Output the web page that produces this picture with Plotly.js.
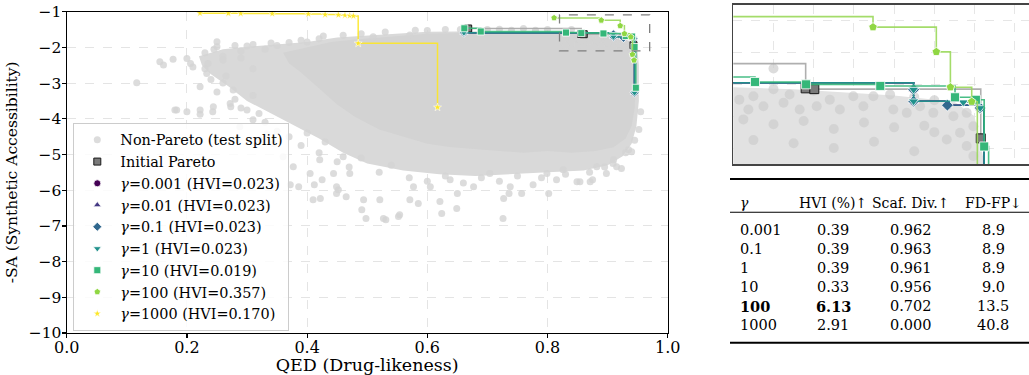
<!DOCTYPE html>
<html><head><meta charset="utf-8">
<script src="https://cdn.plot.ly/plotly-3.0.1.min.js"></script>
<style>html,body{margin:0;padding:0;background:#fff}#chart{width:1029px;height:375px}</style>
</head><body><div id="chart"></div>
<script>
// ---------- data ----------
// dense core of the non-Pareto cloud (outline)
const coreQED = [0.36,0.40,0.44,0.48,0.52,0.56,0.60,0.65,0.70,0.75,0.80,0.85,0.90,0.93,0.94,0.945,0.947,0.945,0.94,0.93,0.91,0.88,0.84,0.80,0.76,0.72,0.68,0.64,0.60,0.56,0.52,0.48,0.45,0.43,0.41,0.39,0.37];
const coreSA  = [-2.15,-2.00,-1.85,-1.78,-1.72,-1.66,-1.62,-1.60,-1.60,-1.60,-1.61,-1.63,-1.67,-1.71,-1.80,-2.1,-3.0,-3.7,-4.2,-4.55,-4.8,-4.9,-4.95,-4.9,-4.95,-4.9,-4.85,-4.8,-4.7,-4.5,-4.3,-3.95,-3.6,-3.3,-3.0,-2.7,-2.45];
// semi-dense halo of the cloud (outline)
const haloQED = [0.22,0.26,0.30,0.35,0.40,0.45,0.50,0.55,0.60,0.70,0.80,0.88,0.93,0.948,0.952,0.952,0.948,0.94,0.925,0.90,0.86,0.80,0.74,0.68,0.62,0.56,0.50,0.46,0.42,0.38,0.34,0.30,0.27,0.24,0.225];
const haloSA  = [-2.25,-2.05,-1.98,-1.92,-1.85,-1.72,-1.66,-1.60,-1.56,-1.55,-1.56,-1.58,-1.63,-1.75,-2.5,-3.5,-4.2,-4.7,-5.05,-5.3,-5.45,-5.5,-5.55,-5.6,-5.55,-5.45,-5.25,-4.95,-4.55,-4.2,-3.85,-3.5,-3.1,-2.75,-2.5];
// individual non-Pareto molecules
const npQED = [0.1165,0.155,0.161,0.177,0.183,0.20,0.206,0.222,0.222,0.25,0.25,0.222,0.244,0.272,0.233,0.277,0.30,0.31,0.333,0.344,0.36,0.372,0.405,0.41,0.449,0.377,0.421,0.444,0.322,0.288,0.18,0.20,0.243,0.273,0.386,0.425,0.452,0.491,0.498,0.531,0.554,0.624,0.726,0.422,0.412,0.465,0.571,0.650,0.736,0.802,0.849,0.875,0.915,0.935,0.494,0.521,0.585,0.621,0.649,0.677,0.727,0.757,0.776,0.815,0.854,0.871,0.898,0.923,0.940,0.471,0.46,0.449,0.577,0.605,0.638,0.704,0.738,0.799,0.826,0.882,0.909,0.527,0.552,0.427,0.51,0.571,0.60,0.655,0.70,0.74,0.78,0.40,0.35,0.30,0.21,0.235,0.26,0.29,0.265,0.31,
0.23,0.245,0.26,0.28,0.29,0.31,0.33,0.34,0.37,0.39,0.42,0.46,0.49,0.53,0.58,0.63,0.67,0.72,0.76,0.80,0.84,
0.23,0.24,0.25,0.26,0.28,0.29,0.31,0.32,0.33,0.35,0.37,0.39,0.40,0.42,0.43,0.45,0.47,0.49,0.52,0.54,0.57,0.60,0.63,0.66,0.69,0.72,0.75,0.79,0.83,0.87,0.895,0.91,0.93,0.945,0.952,0.955,
0.823,0.830,0.8275,0.835,0.845,0.848,0.853,0.8615,0.868,0.873,0.8797,0.8847,0.8897,0.898,0.8996,0.9063,0.9129,0.9195,0.9295,0.9361,0.9394,0.9328,0.9361,0.9394,0.9262,0.825,0.84,0.855,0.87,0.885,0.90,0.915,0.83,0.85,0.87,0.89,0.91,0.92,0.86,0.91,0.92,0.84];
const npSA  = [-2.99,-2.40,-2.49,-2.33,-3.75,-2.31,-2.45,-3.75,-3.87,-1.84,-1.98,-3.10,-3.66,-3.57,-2.73,-3.19,-3.75,-4.03,-4.41,-4.69,-5.06,-5.85,-5.53,-6.27,-6.09,-5.34,-5.15,-5.53,-4.59,-4.22,-3.75,-3.80,-3.80,-3.66,-5.90,-5.71,-5.99,-6.55,-6.79,-6.83,-6.69,-6.65,-6.79,-6.23,-5.85,-6.18,-6.27,-6.09,-6.09,-6.09,-5.76,-5.71,-5.34,-4.87,-6.27,-6.27,-6.37,-6.32,-6.51,-5.90,-6.23,-6.09,-5.85,-5.71,-5.76,-5.76,-5.53,-5.39,-4.92,-5.53,-5.06,-5.90,-5.90,-5.90,-5.71,-5.53,-5.90,-5.53,-5.43,-5.34,-5.25,-6.79,-6.74,-1.68,-1.70,-1.65,-1.53,-1.50,-1.50,-1.52,-1.52,-1.85,-1.95,-1.96,-2.55,-2.45,-2.35,-2.1,-2.8,-2.6,
-2.15,-2.05,-2.25,-1.95,-2.3,-1.92,-2.05,-1.88,-1.86,-1.8,-1.76,-1.66,-1.62,-1.57,-1.52,-1.50,-1.47,-1.49,-1.47,-1.50,-1.50,
-2.6,-2.9,-3.25,-3.0,-3.45,-3.7,-3.35,-3.85,-4.1,-4.35,-4.5,-4.75,-4.4,-4.95,-4.65,-5.2,-5.35,-5.1,-5.5,-5.3,-5.65,-5.75,-5.6,-5.8,-5.65,-5.75,-5.6,-5.65,-5.55,-5.5,-5.35,-5.15,-4.95,-4.6,-4.3,-3.8,
-1.696,-1.675,-1.758,-1.7375,-1.716,-1.664,-1.758,-1.7375,-1.696,-1.758,-1.675,-1.7375,-1.675,-1.664,-1.758,-1.779,-1.7375,-1.779,-1.80,-1.779,-1.8625,-1.904,-1.9875,-2.05,-1.946,-1.82,-1.85,-1.83,-1.88,-1.84,-1.87,-1.86,-1.95,-1.97,-2.0,-1.96,-2.02,-1.9,-1.64,-1.68,-1.70,-1.63];
// Pareto fronts
const initQED = [0.668,0.856,0.8603,0.9431];
const initSA  = [-1.47,-1.625,-1.63,-1.939];
const g0001QED = [0.661,0.9097,0.9097,0.9265,0.9428,0.9448];
const g0001SA  = [-1.59,-1.633,-1.706,-1.731,-1.748,-3.27];
const g001QED  = [0.661,0.9097,0.9097,0.9265,0.9428,0.9448];
const g001SA   = [-1.59,-1.633,-1.706,-1.731,-1.748,-3.27];
const g01QED   = [0.661,0.9097,0.9097,0.9265,0.9428,0.9448];
const g01SA    = [-1.59,-1.633,-1.706,-1.731,-1.748,-3.27];
const g1QED    = [0.661,0.9097,0.9097,0.9344,0.9428,0.9448];
const g1SA     = [-1.59,-1.633,-1.706,-1.712,-1.748,-3.27];
const g10QED   = [0.6616,0.689,0.8308,0.8562,0.8931,0.9303,0.9407,0.9448,0.947];
const g10SA    = [-1.465,-1.554,-1.585,-1.600,-1.61,-1.681,-1.697,-1.99,-3.13];
const g100QED  = [0.811,0.8895,0.921,0.928,0.9386,0.9414,0.944];
const g100SA   = [-1.175,-1.241,-1.396,-1.618,-1.709,-2.2,-2.36];
const g1000QED = [0.2218,0.269,0.2895,0.342,0.402,0.43,0.452,0.463,0.471,0.477,0.485,0.617];
const g1000SA  = [-1.04,-1.045,-1.05,-1.055,-1.065,-1.08,-1.09,-1.10,-1.11,-1.12,-1.886,-3.68];
// zoom window
const zoomQED = [0.82, 0.97];
const zoomSA  = [-2.1, -1.09];
// table
const tblHeader = ['<i>γ</i>','HVI (%)↑','Scaf. Div.↑','FD-FP↓'];
const tblGamma  = ['0.001','0.1','1','10','100','1000'];
const tblHVI    = ['0.39','0.39','0.39','0.33','6.13','2.91'];
const tblScaf   = ['0.962','0.963','0.961','0.956','0.702','0.000'];
const tblFD     = ['8.9','8.9','8.9','9.0','13.5','40.8'];
const tblBold   = ['100'];

// ---------- drawing ----------
const W = 1029, H = 375;
const fx = p => p / W, fy = p => 1 - p / H;
const serif = 'DejaVu Serif';

const series = [
  {name:'Initial Pareto', x:initQED, y:initSA, color:'#7a7a7a', line:'#a6a6a6', symbol:'square', edge:'#1a1a1a', ew:1},
  {name:'<i>γ</i>=0.001 (HVI=0.023)', x:g0001QED, y:g0001SA, color:'#440154', line:'#440154', symbol:'circle', edge:'white', ew:0.8},
  {name:'<i>γ</i>=0.01 (HVI=0.023)', x:g001QED, y:g001SA, color:'#443983', line:'#443983', symbol:'triangle-up', edge:'white', ew:0.8},
  {name:'<i>γ</i>=0.1 (HVI=0.023)', x:g01QED, y:g01SA, color:'#31688e', line:'#31688e', symbol:'diamond', edge:'white', ew:0.8},
  {name:'<i>γ</i>=1 (HVI=0.023)', x:g1QED, y:g1SA, color:'#21918c', line:'#21918c', symbol:'triangle-down', edge:'white', ew:0.8},
  {name:'<i>γ</i>=10 (HVI=0.019)', x:g10QED, y:g10SA, color:'#35b779', line:'#35b779', symbol:'square', edge:'white', ew:0.8},
  {name:'<i>γ</i>=100 (HVI=0.357)', x:g100QED, y:g100SA, color:'#90d743', line:'#9ad85a', symbol:'pentagon', edge:'white', ew:0.8},
  {name:'<i>γ</i>=1000 (HVI=0.170)', x:g1000QED, y:g1000SA, color:'#fde725', line:'#fde725', symbol:'star', edge:'white', ew:0.6}
];

const traces = [];
// cloud main
traces.push({x:haloQED, y:haloSA, mode:'lines', fill:'toself', fillcolor:'#d9d9d9', line:{width:0}, hoverinfo:'skip', showlegend:false, xaxis:'x', yaxis:'y'});
traces.push({x:coreQED, y:coreSA, mode:'lines', fill:'toself', fillcolor:'#d3d3d3', line:{width:0}, hoverinfo:'skip', showlegend:false, xaxis:'x', yaxis:'y'});
traces.push({x:npQED, y:npSA, mode:'markers', name:'Non-Pareto (test split)', marker:{size:7, color:'rgba(211,211,211,0.8)'}, xaxis:'x', yaxis:'y'});
// cloud inset
traces.push({x:coreQED, y:coreSA, mode:'lines', fill:'toself', fillcolor:'#e2e2e2', line:{width:0}, hoverinfo:'skip', showlegend:false, xaxis:'x2', yaxis:'y2'});
traces.push({x:npQED, y:npSA, mode:'markers', marker:{size:10, color:'rgba(205,205,205,0.7)'}, showlegend:false, xaxis:'x2', yaxis:'y2'});

function addSeries(s, xa, ya, ms, lw, legend) {
  traces.push({x:s.x, y:s.y, mode:'lines', line:{shape:'hv', color:s.line, width:lw}, opacity:0.9, hoverinfo:'skip', showlegend:false, xaxis:xa, yaxis:ya});
  traces.push({x:s.x, y:s.y, mode:'markers', name:s.name, showlegend:legend,
    marker:{symbol:s.symbol, size:(s.symbol==='star'? ms-1 : ms), color:s.color, line:{color:s.edge, width:s.ew}}, xaxis:xa, yaxis:ya});
}
series.forEach(s => addSeries(s, 'x', 'y', 7, 1.5, true));
series.forEach(s => addSeries(s, 'x2', 'y2', 9, 1.6, false));

const shapes = [
  {type:'rect', xref:'x', yref:'y', x0:zoomQED[0], x1:zoomQED[1], y0:zoomSA[0], y1:zoomSA[1], line:{color:'#7f7f7f', width:1.3, dash:'dash'}},
  {type:'line', xref:'paper', yref:'paper', x0:fx(730), x1:1, y0:fy(179), y1:fy(179), line:{color:'black', width:2}},
  {type:'line', xref:'paper', yref:'paper', x0:fx(730), x1:1, y0:fy(212.3), y1:fy(212.3), line:{color:'black', width:1.1}},
  {type:'line', xref:'paper', yref:'paper', x0:fx(730), x1:1, y0:fy(342.7), y1:fy(342.7), line:{color:'black', width:2}}
];

const colX = [738, 833, 911, 993];
const rowY = [230, 249, 267.7, 286.7, 306, 325.3];
const annotations = [];
tblHeader.forEach((t, i) => annotations.push({xref:'paper', yref:'paper', x:fx(colX[i]), y:fy(203), xanchor:(i===0?'left':'center'), yanchor:'middle', text:t, showarrow:false, font:{family:serif, size:14, color:'black'}}));
tblGamma.forEach((g, r) => {
  const bold = tblBold.includes(g);
  const cells = [g, tblHVI[r], tblScaf[r], tblFD[r]];
  cells.forEach((c, i) => {
    const txt = (bold && i < 2) ? '<b>' + c + '</b>' : c;
    annotations.push({xref:'paper', yref:'paper', x:fx(colX[i]), y:fy(rowY[r]), xanchor:(i===0?'left':'center'), yanchor:'middle', text:txt, showarrow:false, font:{family:serif, size:14.5, color:'black'}});
  });
});

const layout = {
  width:W, height:H, margin:{l:0, r:0, t:0, b:0},
  paper_bgcolor:'white', plot_bgcolor:'white',
  font:{family:serif, color:'black'},
  xaxis:{domain:[fx(66.7), fx(667.7)], range:[0,1], tick0:0, dtick:0.2, tickformat:'.1f', anchor:'y',
    showline:true, mirror:true, linecolor:'black', linewidth:1.2, ticks:'outside', ticklen:3.5, tickwidth:1.2, tickcolor:'black',
    ticklabelstandoff:-4,
    showgrid:true, gridcolor:'#dddddd', griddash:'dash', gridwidth:0.8, zeroline:false, tickfont:{size:16, family:serif},
    title:{text:'QED (Drug-likeness)', font:{size:17.5, family:serif}, standoff:5}},
  yaxis:{domain:[fy(333), fy(11.7)], range:[-10,-1], tick0:-10, dtick:1, anchor:'x',
    showline:true, mirror:true, linecolor:'black', linewidth:1.2, ticks:'outside', ticklen:4, tickwidth:1.2, tickcolor:'black',
    ticklabelstandoff:-3,
    showgrid:true, gridcolor:'#dddddd', griddash:'dash', gridwidth:0.8, zeroline:false, tickfont:{size:15.5, family:serif},
    title:{text:'-SA (Synthetic Accessibility)', font:{size:15.5, family:serif}, standoff:7}},
  xaxis2:{domain:[fx(733.3), 1], range:[0.82, 0.9671], anchor:'y2', tick0:0.8, dtick:0.02, showticklabels:false, ticks:'',
    showline:true, mirror:true, linecolor:'#444444', linewidth:1.6, showgrid:true, gridcolor:'#e0e0e0', griddash:'dash', gridwidth:0.8, zeroline:false},
  yaxis2:{domain:[fy(164), fy(4.7)], range:[-2.1, -1.1], anchor:'x2', tick0:-2.0, dtick:0.2, showticklabels:false, ticks:'',
    showline:true, mirror:false, linecolor:'#444444', linewidth:1.6, showgrid:true, gridcolor:'#e0e0e0', griddash:'dash', gridwidth:0.8, zeroline:false},
  legend:{x:fx(73.3), y:fy(123), xanchor:'left', yanchor:'top', bgcolor:'rgba(255,255,255,0.85)', bordercolor:'#cccccc', borderwidth:1,
    font:{family:serif, size:14.4, color:'black'}, itemwidth:36, traceorder:'normal'},
  shapes:shapes, annotations:annotations
};

Plotly.newPlot('chart', traces, layout, {displayModeBar:false, staticPlot:true});
</script></body></html>
